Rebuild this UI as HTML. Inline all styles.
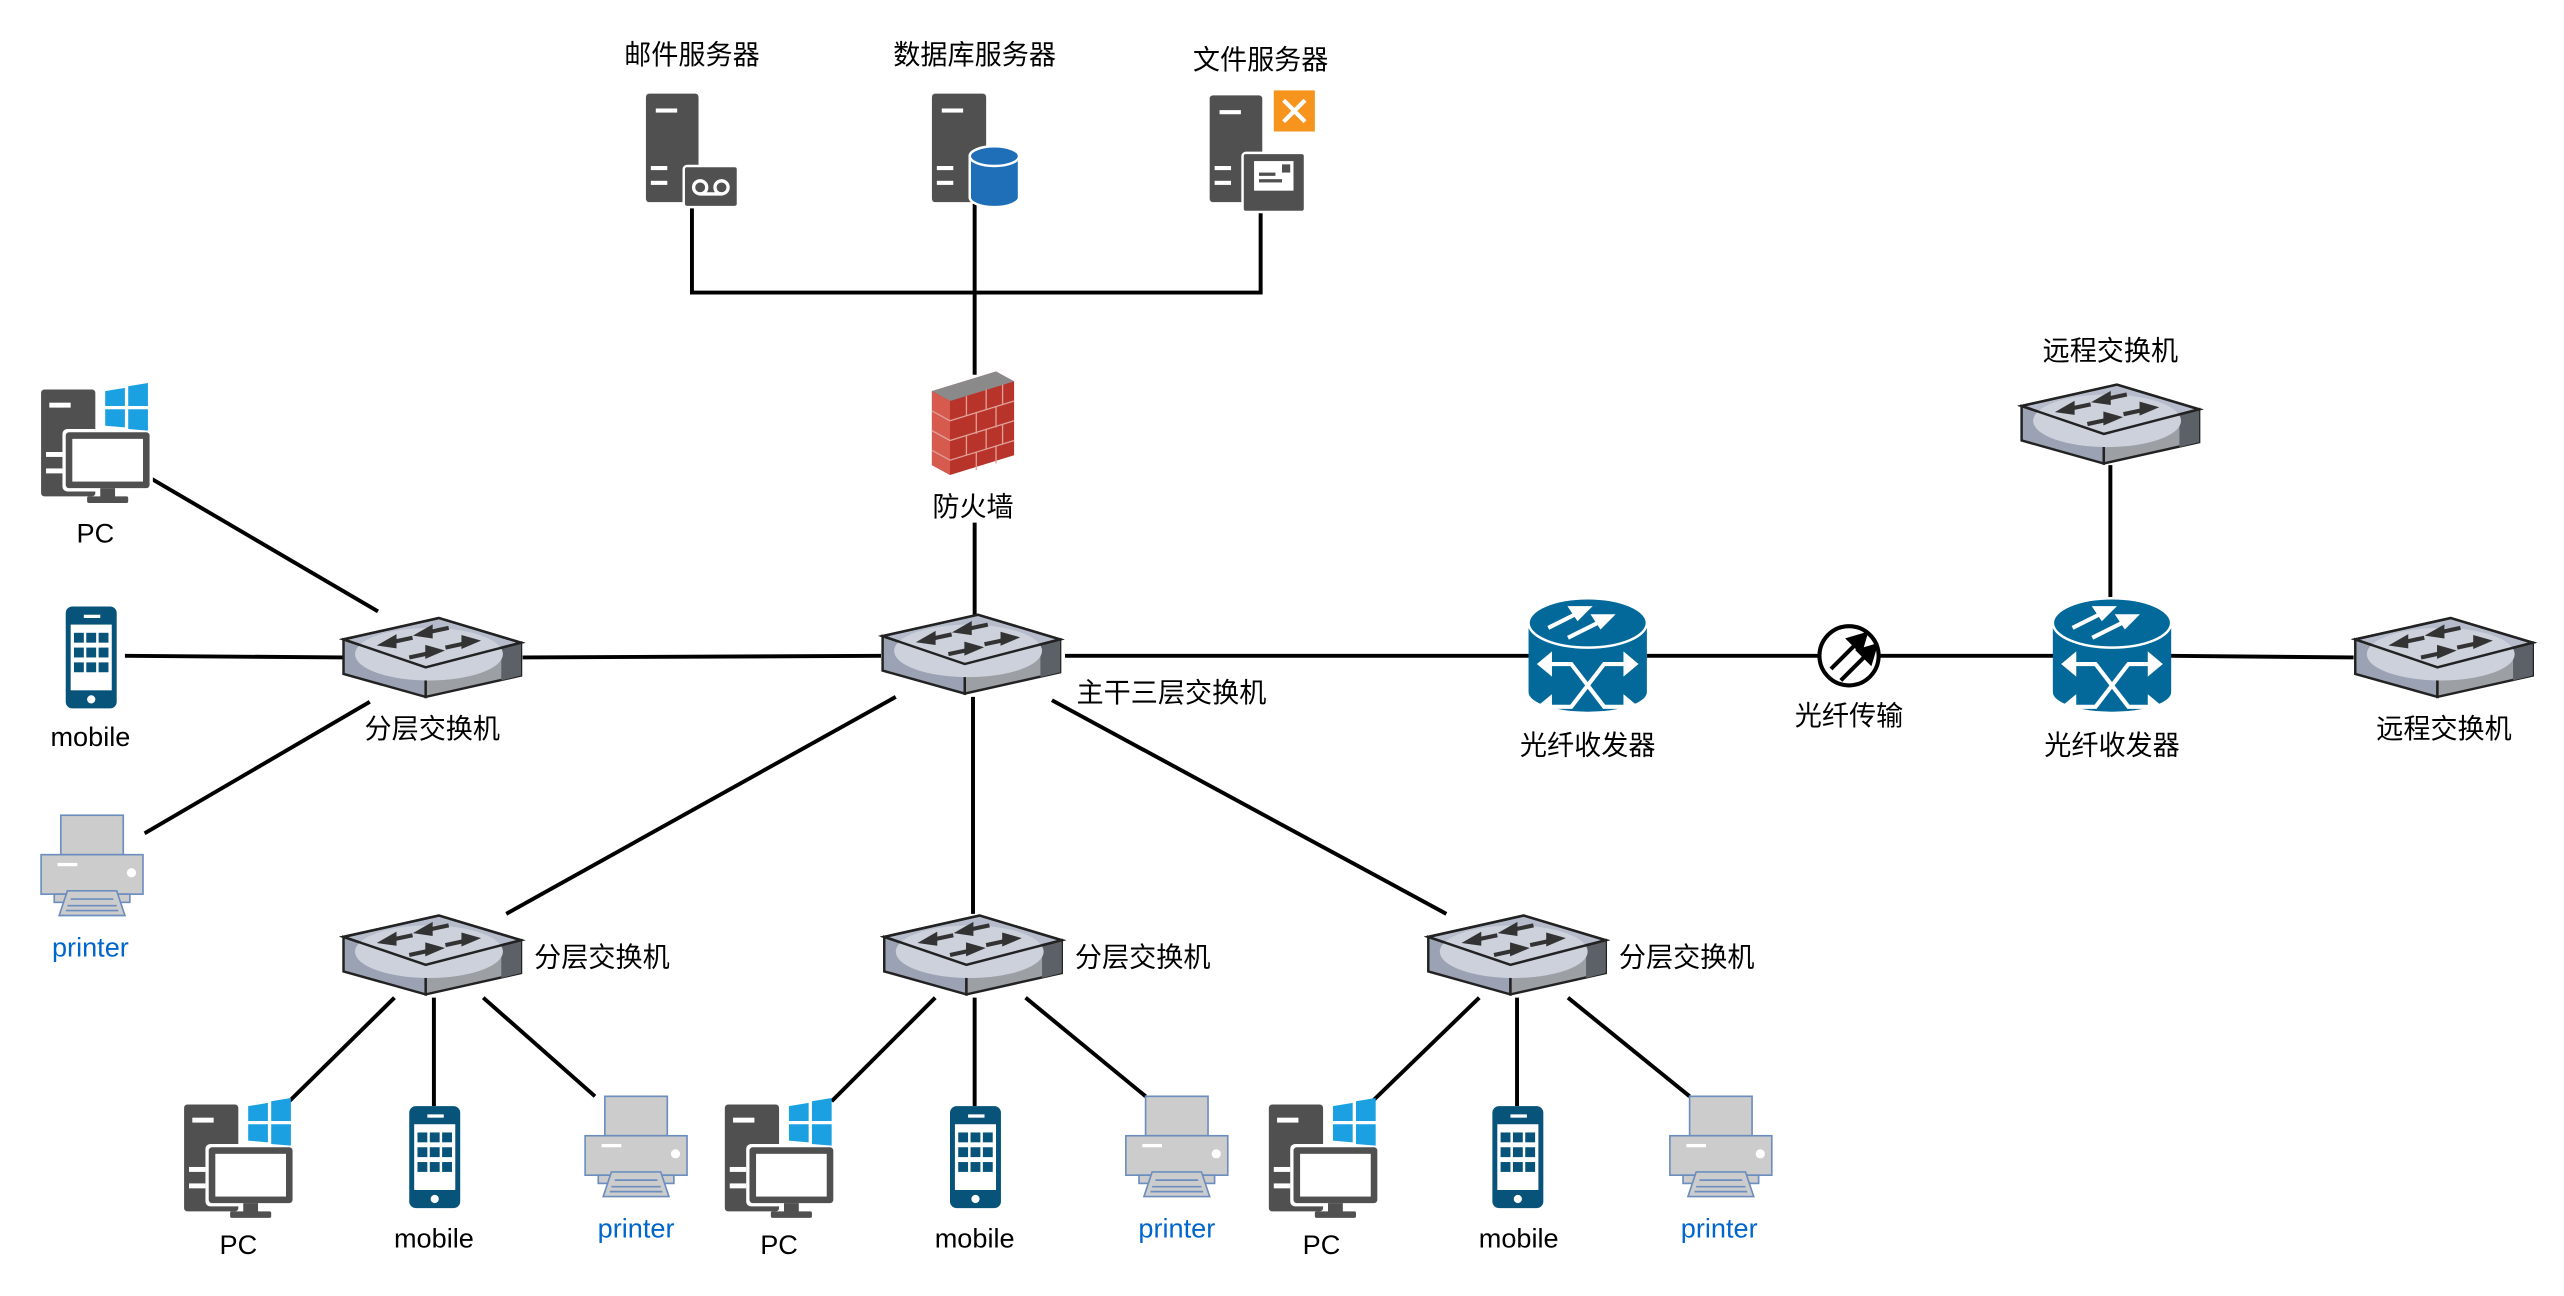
<!DOCTYPE html>
<html><head><meta charset="utf-8"><style>
html,body{margin:0;padding:0;background:#fff;width:2564px;height:1296px;overflow:hidden}
svg{display:block}
text{font-family:"Liberation Sans","Noto Sans CJK SC",sans-serif;font-size:16.5px;fill:#000;text-anchor:middle}
.b{fill:#0066cc}
.l{text-anchor:start}
</style></head><body>
<svg width="2564" height="1296" viewBox="0 0 1560 788.5" preserveAspectRatio="none" xmlns="http://www.w3.org/2000/svg">
<defs>
<g id="sw">
<polygon points="0,13 50,30 50,48 0,34" fill="#9aa2b3" stroke="#222" stroke-width="1.5"/>
<polygon points="50,30 108,15 108,35 50,48" fill="#9c9fa4" stroke="#222" stroke-width="1.5"/>
<polygon points="96,18 108,15 108,35 96,38" fill="#5c6168"/>
<polygon points="0,13 58,0 108,15 50,30" fill="#b6bccb" stroke="#222" stroke-width="1.5"/>
<ellipse cx="52" cy="22" rx="45" ry="16" fill="#cdd1dc"/>
<polygon points="0,13 58,0 108,15 50,30" fill="none" stroke="#222" stroke-width="1.5"/>
<g stroke="#333" stroke-width="2.5" fill="#333">
<line x1="28" y1="15" x2="42" y2="12"/><polygon points="24,16 31,12 31,17"/>
<line x1="50" y1="9" x2="64" y2="6"/><polygon points="46,10 53,6 53,11"/>
<line x1="40" y1="24" x2="54" y2="21"/><polygon points="58,20 51,18 51,23"/>
<line x1="62" y1="18" x2="76" y2="15"/><polygon points="80,14 73,12 73,17"/>
</g>
</g>
<g id="pc">
<rect x="0" y="2" width="33" height="65" rx="2" fill="#505050"/>
<rect x="5" y="10" width="13" height="3" fill="#fff"/>
<rect x="3" y="40" width="10" height="3" fill="#fff"/><rect x="3" y="50" width="10" height="3" fill="#fff"/>
<rect x="13" y="26" width="55" height="38" rx="3" fill="#fff"/>
<rect x="15" y="28" width="51" height="34" rx="2" fill="#505050"/>
<rect x="19" y="32" width="43" height="26" fill="#fff"/>
<rect x="36" y="62" width="9" height="6" fill="#505050"/><rect x="28" y="67" width="25" height="4" rx="1" fill="#505050"/>
<g fill="#1ba1e2"><polygon points="39,3 51,1 51,12 39,12"/><polygon points="53,0 65,-2 65,12 53,12"/><polygon points="39,14 51,14 51,25 39,24"/><polygon points="53,14 65,14 65,27 53,26"/></g>
</g>
<g id="mob">
<rect x="0" y="0" width="31" height="62" rx="4" fill="#07537a"/>
<rect x="3" y="11" width="25" height="40" fill="#fff"/>
<rect x="11" y="5" width="10" height="2" fill="#fff"/>
<circle cx="15.5" cy="56.5" r="2.5" fill="#fff"/>
<g fill="#07537a">
<rect x="5" y="16" width="6" height="6"/><rect x="12.5" y="16" width="6" height="6"/><rect x="20" y="16" width="6" height="6"/>
<rect x="5" y="25" width="6" height="6"/><rect x="12.5" y="25" width="6" height="6"/><rect x="20" y="25" width="6" height="6"/>
<rect x="5" y="34" width="6" height="6"/><rect x="12.5" y="34" width="6" height="6"/><rect x="20" y="34" width="6" height="6"/>
</g>
</g>
<g id="prn" stroke="#6c8ebf" stroke-width="1" fill="#cccccc">
<rect x="12" y="0" width="38" height="24"/>
<rect x="0" y="24" width="62" height="24"/>
<rect x="8" y="48" width="46" height="5"/>
<polygon points="11,61 16,46 46,46 51,61"/>
<line x1="18" y1="51" x2="44" y2="51"/><line x1="16" y1="55" x2="46" y2="55"/><line x1="15" y1="58" x2="47" y2="58"/>
<rect x="10" y="29" width="12" height="2" fill="#fff" stroke="none"/>
<circle cx="55" cy="35" r="2.8" fill="#fff" stroke="none"/>
</g>
<g id="xcv">
<path d="M0,15 L0,57 A36,12 0 0 0 72,57 L72,15 Z" fill="#03689a"/>
<ellipse cx="36" cy="15" rx="36" ry="15" fill="#03689a" stroke="#fff" stroke-width="1.5"/>
<g stroke="#fff" stroke-width="2.5" fill="#fff">
<line x1="12" y1="18" x2="30" y2="9"/><polygon points="36,6 26,6 30,12"/>
<line x1="24" y1="24" x2="44" y2="14"/><polygon points="50,11 40,11 44,17"/>
<polyline points="10,40 26,40 46,66 62,66" fill="none"/><polyline points="10,66 26,66 46,40 62,40" fill="none"/>
<polygon points="7,40 13,35 13,45"/><polygon points="65,40 59,35 59,45"/><polygon points="7,66 13,61 13,71"/><polygon points="65,66 59,61 59,71"/>
</g>
</g>
</defs>

<g stroke="#000" stroke-width="2.4" fill="none">
<polyline points="421,124 421,178 767,178 767,124"/>
<line x1="593" y1="124" x2="593" y2="228"/>
<line x1="593" y1="318" x2="593" y2="375"/>
<line x1="90" y1="290" x2="230" y2="372"/>
<line x1="76" y1="399" x2="209" y2="400"/>
<line x1="88" y1="507" x2="225" y2="427"/>
<line x1="318" y1="400" x2="536" y2="399"/>
<line x1="648" y1="399" x2="930" y2="399"/>
<line x1="1002" y1="399" x2="1107" y2="399"/>
<line x1="1143" y1="399" x2="1250" y2="399"/>
<line x1="1320" y1="399" x2="1432" y2="400"/>
<line x1="1284" y1="283" x2="1284" y2="364"/>
<line x1="545" y1="424" x2="308" y2="556"/>
<line x1="592" y1="424" x2="592" y2="556"/>
<line x1="640" y1="426" x2="880" y2="556"/>
<line x1="240" y1="607" x2="176" y2="670"/><line x1="264" y1="607" x2="264" y2="673"/><line x1="294" y1="607" x2="362" y2="667"/>
<line x1="569" y1="607" x2="506" y2="670"/><line x1="593" y1="607" x2="593" y2="673"/><line x1="624" y1="607" x2="697" y2="667"/>
<line x1="900" y1="607" x2="835" y2="670"/><line x1="923" y1="607" x2="923" y2="673"/><line x1="954" y1="607" x2="1028" y2="667"/>
</g>

<!-- switches -->
<use href="#sw" x="209" y="376"/>
<use href="#sw" x="537" y="374"/>
<use href="#sw" x="209" y="557"/>
<use href="#sw" x="538" y="557"/>
<use href="#sw" x="869" y="557"/>
<use href="#sw" x="1230" y="234"/>
<use href="#sw" x="1433" y="376"/>

<!-- servers -->
<rect x="393" y="57" width="32" height="66" rx="2" fill="#505050"/><rect x="399" y="66" width="13" height="2.5" fill="#fff"/>
<rect x="396" y="101" width="10" height="2.5" fill="#fff"/><rect x="396" y="110" width="10" height="2.5" fill="#fff"/>
<rect x="416" y="101" width="33" height="25" rx="2" fill="#505050" stroke="#fff" stroke-width="1.5"/>
<circle cx="426" cy="114" r="4" fill="none" stroke="#fff" stroke-width="2"/><circle cx="439" cy="114" r="4" fill="none" stroke="#fff" stroke-width="2"/><line x1="426" y1="118" x2="439" y2="118" stroke="#fff" stroke-width="2"/>

<rect x="567" y="57" width="33" height="66" rx="2" fill="#505050"/><rect x="573" y="66" width="13" height="2.5" fill="#fff"/>
<rect x="570" y="101" width="10" height="2.5" fill="#fff"/><rect x="570" y="110" width="10" height="2.5" fill="#fff"/>
<path d="M590,95 L590,120 A15,6 0 0 0 620,120 L620,95 Z" fill="#1e6eb8" stroke="#fff" stroke-width="1.5"/>
<ellipse cx="605" cy="95" rx="15" ry="6" fill="#1e6eb8" stroke="#fff" stroke-width="1.5"/>

<rect x="736" y="58" width="32" height="65" rx="2" fill="#505050"/><rect x="742" y="67" width="13" height="2.5" fill="#fff"/>
<rect x="739" y="101" width="10" height="2.5" fill="#fff"/><rect x="739" y="110" width="10" height="2.5" fill="#fff"/>
<rect x="775" y="55" width="25" height="25" fill="#f7941d"/>
<path d="M781,61 L794,74 M794,61 L781,74" stroke="#fff" stroke-width="2.5"/>
<rect x="756" y="93" width="38" height="36" rx="2" fill="#505050" stroke="#fff" stroke-width="1.5"/>
<rect x="763" y="98" width="24" height="18" fill="#fff"/><rect x="766" y="105" width="10" height="2" fill="#505050"/><rect x="766" y="109" width="14" height="2" fill="#505050"/><rect x="780" y="100" width="5" height="5" fill="#505050"/>

<!-- firewall -->
<polygon points="567,238 606,226 617,232 617,277 578,289 567,283" fill="#b8342b"/>
<polygon points="567,238 606,226 617,232 578,244" fill="#8a8a8a"/>
<polygon points="567,238 578,244 578,289 567,283" fill="#d65a4e"/>
<g stroke="#e0a098" stroke-width="0.8" fill="none">
<path d="M567,250 L578,256 L617,244 M567,262 L578,268 L617,256 M567,274 L578,280 L617,268"/>
<path d="M588,241 V253 M600,237 V249 M610,234 V246 M594,251 V264 M606,247 V260 M588,265 V277 M600,261 V273 M610,258 V270 M594,275 V286 M606,271 V282"/>
</g>

<!-- PCs -->
<use href="#pc" x="25" y="235"/>
<use href="#pc" x="112" y="670"/>
<use href="#pc" x="441" y="670"/>
<use href="#pc" x="772" y="670"/>
<!-- mobiles -->
<use href="#mob" x="40" y="369"/>
<use href="#mob" x="249" y="673"/>
<use href="#mob" x="578" y="673"/>
<use href="#mob" x="908" y="673"/>
<!-- printers -->
<use href="#prn" x="25" y="496"/>
<use href="#prn" x="356" y="667"/>
<use href="#prn" x="685" y="667"/>
<use href="#prn" x="1016" y="667"/>

<!-- transceivers -->
<use href="#xcv" x="930" y="364"/>
<use href="#xcv" x="1249" y="364"/>
<ellipse cx="1125" cy="399" rx="18" ry="18" fill="#fff" stroke="#000" stroke-width="2.5"/>
<g stroke="#000" stroke-width="2.5" fill="#000">
<line x1="1114" y1="407" x2="1130" y2="391"/><polygon points="1135,386 1125,389 1132,396"/>
<line x1="1120" y1="414" x2="1136" y2="398"/><polygon points="1141,393 1131,396 1138,403"/>
</g>

<!-- labels -->
<text x="421" y="39">邮件服务器</text>
<text x="593" y="39">数据库服务器</text>
<text x="767" y="42">文件服务器</text>
<text x="592" y="314">防火墙</text>
<text x="58" y="330">PC</text>
<text x="55" y="454">mobile</text>
<text x="55" y="582" class="b">printer</text>
<text x="263" y="449">分层交换机</text>
<text x="655" y="427" class="l">主干三层交换机</text>
<text x="325" y="588" class="l">分层交换机</text>
<text x="654" y="588" class="l">分层交换机</text>
<text x="985" y="588" class="l">分层交换机</text>
<text x="966" y="459">光纤收发器</text>
<text x="1125" y="441">光纤传输</text>
<text x="1285" y="459">光纤收发器</text>
<text x="1284" y="219">远程交换机</text>
<text x="1487" y="449">远程交换机</text>
<text x="145" y="763">PC</text>
<text x="264" y="759">mobile</text>
<text x="387" y="753" class="b">printer</text>
<text x="474" y="763">PC</text>
<text x="593" y="759">mobile</text>
<text x="716" y="753" class="b">printer</text>
<text x="804" y="763">PC</text>
<text x="924" y="759">mobile</text>
<text x="1046" y="753" class="b">printer</text>
</svg>
</body></html>
